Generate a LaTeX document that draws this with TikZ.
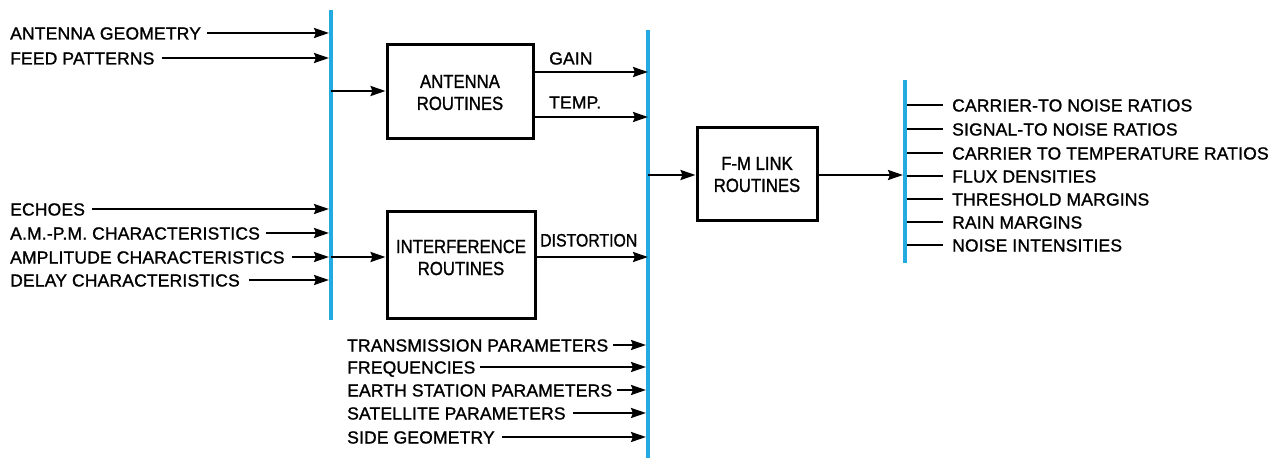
\documentclass[tikz,border=0pt]{standalone}
\usepackage{fontspec}
\setmainfont{Liberation Sans}[LetterSpace=1,FakeBold=1.2]
\newfontfamily\boxfont{Liberation Sans}[FakeBold=1.2,FakeStretch=0.88]
\usetikzlibrary{arrows.meta}
\definecolor{barblue}{RGB}{35,170,225}
\tikzset{
  lbl/.style={font=\fontsize{17.5}{20}\selectfont, inner sep=0pt, text height=13pt, text depth=0pt},
  inlbl/.style={lbl, anchor=west},
  bus/.style={draw=barblue, line width=4.5pt},
  arr/.style={draw=black, line width=2.2pt, -{Stealth[length=15pt,width=10pt,inset=2pt]}},
  plain/.style={draw=black, line width=2pt},
  box/.style={draw=black, line width=3pt, inner sep=0pt},
  boxtxt/.style={font=\boxfont\fontsize{19}{22}\selectfont, align=center, inner sep=0pt}
}
\begin{document}
\begin{tikzpicture}[x=1pt,y=-1pt]
\useasboundingbox (0,0) rectangle (1278,460);
% buses
\coordinate (b1t) at (331,10); \coordinate (b1b) at (331,320);
\coordinate (b2t) at (648,30); \coordinate (b2b) at (648,458);
\coordinate (b3t) at (905,80); \coordinate (b3b) at (905,263);
\draw[bus] (b1t) -- (b1b);
\draw[bus] (b2t) -- (b2b);
\draw[bus] (b3t) -- (b3b);
% boxes
\node[box, minimum width=146pt, minimum height=93pt] (ant) at (460,91.5) {};
\node[boxtxt] (antt) at ([yshift=-1pt]ant.center) {ANTENNA\\ROUTINES};
\node[box, minimum width=148pt, minimum height=107pt] (intf) at (461,264.5) {};
\node[boxtxt] (intft) at ([yshift=7pt]intf.center) {INTERFERENCE\\ROUTINES};
\node[box, minimum width=120pt, minimum height=93pt] (fm) at (757,173.5) {};
\node[boxtxt] (fmt) at ([yshift=-1pt]fm.center) {F-M LINK\\ROUTINES};
% left inputs
\node[inlbl] (ag) at (10,33) {ANTENNA GEOMETRY};
\node[inlbl] (fp) at (10,58) {FEED PATTERNS};
\node[inlbl] (ec) at (10,209) {ECHOES};
\node[inlbl] (am) at (10,233) {A.M.-P.M. CHARACTERISTICS};
\node[inlbl] (ac) at (10,257) {AMPLITUDE CHARACTERISTICS};
\node[inlbl] (dc) at (10,280) {DELAY CHARACTERISTICS};
\coordinate (ag1) at (329,33);
\coordinate (fp1) at (329,58);
\coordinate (ec1) at (329,209);
\coordinate (am1) at (329,233);
\coordinate (ac1) at (329,257);
\coordinate (dc1) at (329,280);
\draw[arr] ([xshift=6pt]ag.east) -- (ag1);
\draw[arr] ([xshift=7pt]fp.east) -- (fp1);
\draw[arr] ([xshift=7pt]ec.east) -- (ec1);
\draw[arr] ([xshift=6pt]am.east) -- (am1);
\draw[arr] ([xshift=7pt]ac.east) -- (ac1);
\draw[arr] ([xshift=9pt]dc.east) -- (dc1);
% bus 1 to boxes
\coordinate (b1a) at (331,91);
\coordinate (b1i) at (331,257);
\draw[arr] (b1a) -- (b1a -| ant.west);
\draw[arr] (b1i) -- (b1i -| intf.west);
% antenna outputs
\coordinate (gainy) at (648,72);
\coordinate (tempy) at (648,117);
\coordinate (disty) at (648,257);
\draw[arr] (gainy -| ant.east) -- (gainy);
\draw[arr] (tempy -| ant.east) -- (tempy);
\draw[arr] (disty -| intf.east) -- (disty);
\node[inlbl] (gain) at (549,58) {GAIN};
\node[inlbl] (temp) at (549,102) {TEMP.};
\node[inlbl, font=\boxfont\fontsize{18}{20}\selectfont] (dist) at (540,240) {DISTORTION};
% bottom inputs
\node[inlbl] (tp) at (347,345) {TRANSMISSION PARAMETERS};
\node[inlbl] (fr) at (347,367) {FREQUENCIES};
\node[inlbl] (es) at (347,390) {EARTH STATION PARAMETERS};
\node[inlbl] (sp) at (347,413) {SATELLITE PARAMETERS};
\node[inlbl] (sg) at (347,437) {SIDE GEOMETRY};
\coordinate (tp1) at (646,345);
\coordinate (fr1) at (646,367);
\coordinate (es1) at (646,390);
\coordinate (sp1) at (646,413);
\coordinate (sg1) at (646,437);
\draw[arr] ([xshift=5pt]tp.east) -- (tp1);
\draw[arr] ([xshift=4pt]fr.east) -- (fr1);
\draw[arr] ([xshift=5pt]es.east) -- (es1);
\draw[arr] ([xshift=7pt]sp.east) -- (sp1);
\draw[arr] ([xshift=7pt]sg.east) -- (sg1);
% bus 2 to F-M, F-M to bus 3
\coordinate (b2f) at (648,175);
\coordinate (b3f) at (903,175);
\draw[arr] (b2f) -- (b2f -| fm.west);
\draw[arr] (b3f -| fm.east) -- (b3f);
% outputs
\node[inlbl] (o1) at (952,105) {CARRIER-TO NOISE RATIOS};
\node[inlbl] (o2) at (952,129) {SIGNAL-TO NOISE RATIOS};
\node[inlbl] (o3) at (952,153) {CARRIER TO TEMPERATURE RATIOS};
\node[inlbl] (o4) at (952,176) {FLUX DENSITIES};
\node[inlbl] (o5) at (952,199) {THRESHOLD MARGINS};
\node[inlbl] (o6) at (952,222) {RAIN MARGINS};
\node[inlbl] (o7) at (952,245) {NOISE INTENSITIES};
\foreach \n/\y in {o1/105,o2/129,o3/153,o4/176,o5/199,o6/222,o7/245}{
  \draw[plain] (907,\y) -- ([xshift=-9pt]\n.west);
}
\end{tikzpicture}
\end{document}
